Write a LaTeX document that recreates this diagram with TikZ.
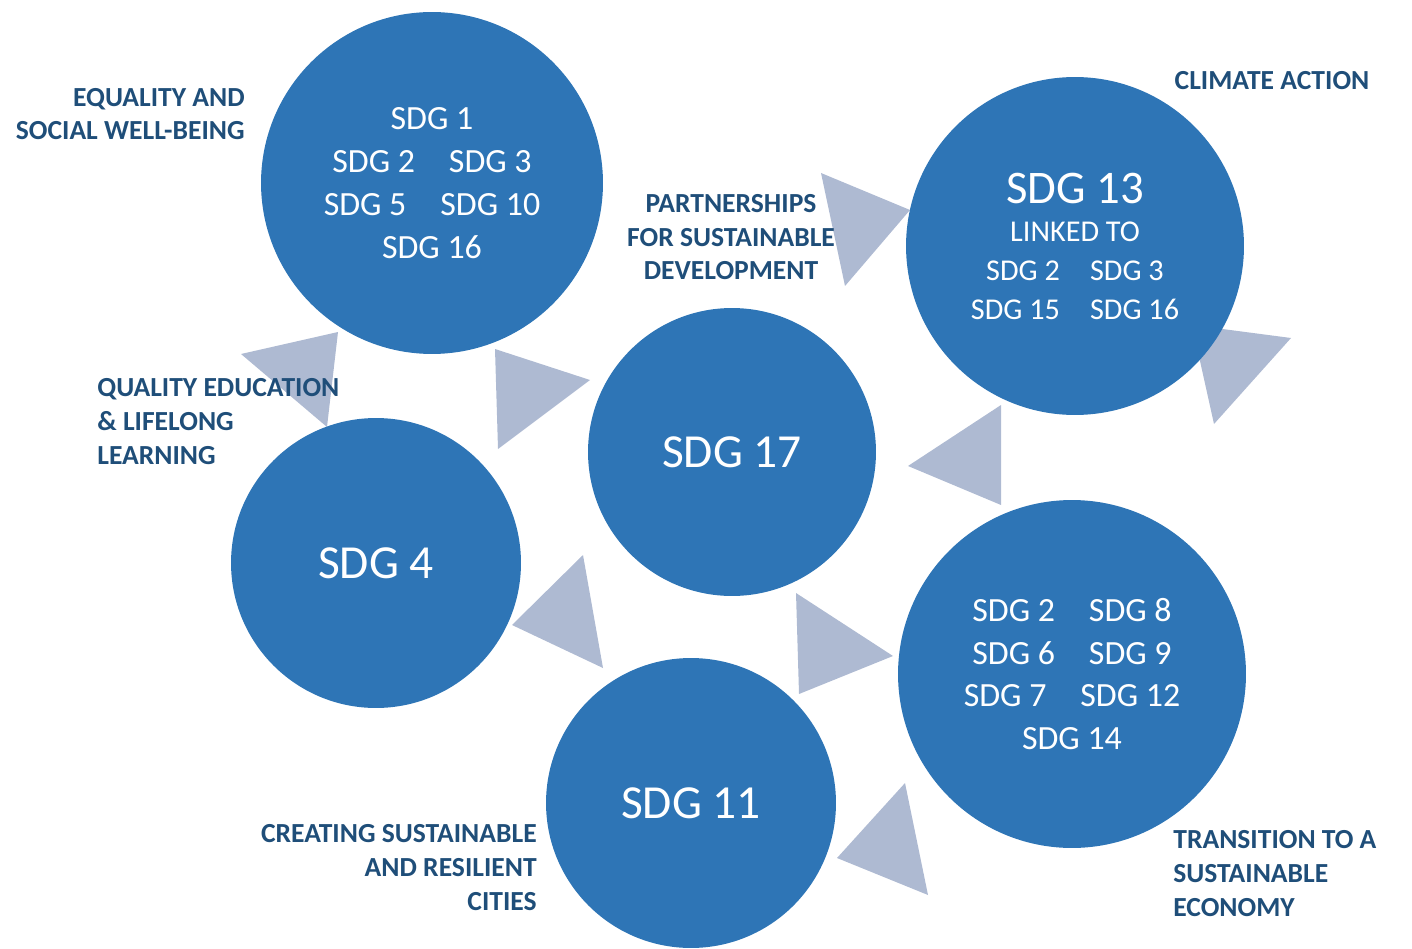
\documentclass[tikz,border=0pt]{standalone}
\usepackage{fontspec}
\setmainfont{Carlito}
\usepackage{tkz-euclide}
\definecolor{CircleClr}{RGB}{46,117,182}
\definecolor{ArrowClr}{RGB}{174,186,210}
\definecolor{LabelClr}{RGB}{31,78,121}

\begin{document}
\begin{tikzpicture}[x=0.02cm,y=-0.02cm,
  bubble/.style={circle,fill=CircleClr,text=white,inner sep=0pt,align=center},
  caption/.style={text=LabelClr,inner sep=0pt,font=\bfseries\fontsize{15.7}{19.3}\selectfont}]
\useasboundingbox (0,0) rectangle (1412,949);

\tkzDefPoints{432/183/Osoc,1075/246/Oclim,732/452/Ohub,376/563/Oedu,691/803/Ocity,1072/674/Oeco}

% arrows between the goals
\tkzDefPoints{241/354/Ea,338/332/Eb,327/427/Ec,
  495/349/Sa,590/380/Sb,498/449/Sc,
  821/173/Ha,910/210/Hb,845/286/Hc,
  1192/325/Ca,1291/338/Cb,1214/424/Cc,
  1001/405/Ka,908/466/Kb,1001/505/Kc,
  796/593/Ga,893/656/Gb,799/694/Gc,
  905/783/Ya,928/895/Yb,837/858/Yc,
  583/555/Ra,512/625/Rb,603/668/Rc}
\tkzFillPolygon[fill=ArrowClr](Ea,Eb,Ec)
\tkzFillPolygon[fill=ArrowClr](Sa,Sb,Sc)
\tkzFillPolygon[fill=ArrowClr](Ha,Hb,Hc)
\tkzFillPolygon[fill=ArrowClr](Ca,Cb,Cc)
\tkzFillPolygon[fill=ArrowClr](Ka,Kb,Kc)
\tkzFillPolygon[fill=ArrowClr](Ga,Gb,Gc)
\tkzFillPolygon[fill=ArrowClr](Ya,Yb,Yc)
\tkzFillPolygon[fill=ArrowClr](Ra,Rb,Rc)

\node[bubble,minimum size=6.84cm,font=\fontsize{19.3}{24.4}\selectfont] (sdgSoc) at (Osoc)
  {SDG 1\\SDG 2\quad SDG 3\\SDG 5\quad SDG 10\\SDG 16};
\node[bubble,minimum size=6.76cm,font=\fontsize{17.2}{22}\selectfont] (sdgClim) at (Oclim)
  {{\fontsize{26.6}{30}\selectfont SDG 13}\\LINKED TO\\SDG 2\quad SDG 3\\SDG 15\quad SDG 16};
\node[bubble,minimum size=5.76cm,font=\fontsize{27}{32}\selectfont] (sdgHub) at (Ohub) {SDG 17};
\node[bubble,minimum size=5.8cm,font=\fontsize{27}{32}\selectfont] (sdgEdu) at (Oedu) {SDG 4};
\node[bubble,minimum size=5.8cm,font=\fontsize{27}{32}\selectfont] (sdgCity) at (Ocity) {SDG 11};
\node[bubble,minimum size=6.96cm,font=\fontsize{19.3}{24.4}\selectfont] (sdgEco) at (Oeco)
  {SDG 2\quad SDG 8\\SDG 6\quad SDG 9\\SDG 7\quad SDG 12\\SDG 14};

\node[caption,align=right,anchor=base east] (lblSoc) at (245,140) {EQUALITY AND\\SOCIAL WELL-BEING};
\node[caption,anchor=base] (lblClim) at (1272,90) {CLIMATE ACTION};
\node[caption,align=center,anchor=base] (lblHub) at (731,280) {PARTNERSHIPS\\FOR SUSTAINABLE\\DEVELOPMENT};
\node[caption,align=left,anchor=base west] (lblEdu) at (97,464) {QUALITY EDUCATION\\\& LIFELONG\\LEARNING};
\node[caption,align=right,anchor=base east] (lblCity) at (537,910) {CREATING SUSTAINABLE\\AND RESILIENT\\CITIES};
\node[caption,align=left,anchor=base west] (lblEco) at (1173,916) {TRANSITION TO A\\SUSTAINABLE\\ECONOMY};
\end{tikzpicture}
\end{document}
